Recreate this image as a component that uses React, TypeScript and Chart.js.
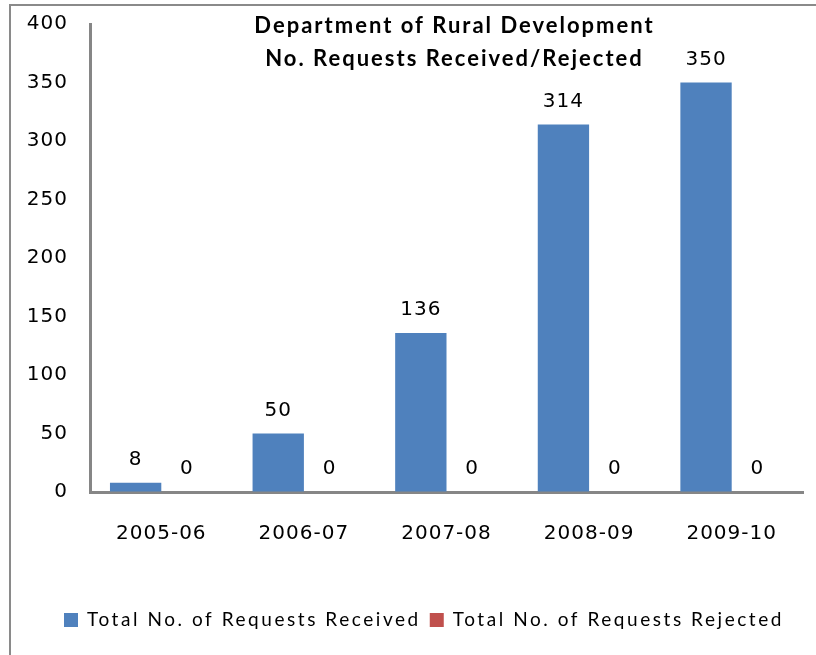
import React, { useEffect, useRef } from "react";
import { Chart, registerables } from "chart.js";

Chart.register(...registerables);

const categories = ["2005-06", "2006-07", "2007-08", "2008-09", "2009-10"];
const received = [8, 50, 136, 314, 350];
const rejected = [0, 0, 0, 0, 0];
const seriesNames = ["Total No. of Requests Received", "Total No. of Requests Rejected"];
const titleLines = ["Department of Rural Development", "No. Requests Received/Rejected"];
const yTicks = { min: 0, max: 400, step: 50 };

const AXIS = "#868686";
const TXT = "#000000";
const NUM_FONT = "20px 'DejaVu Sans'";

export default function App() {
  const ref = useRef<HTMLCanvasElement>(null);

  useEffect(() => {
    const canvas = ref.current!;
    const frame = {
      id: "frame",
      beforeUpdate(chart: any) {
        chart.ctx.letterSpacing = "1px";
      },
      beforeDraw(chart: any) {
        const ctx = chart.ctx;
        ctx.letterSpacing = "1px";
        ctx.save();
        ctx.fillStyle = "#ffffff";
        ctx.fillRect(0, 0, chart.width, chart.height);
        ctx.strokeStyle = "#8a8a8a";
        ctx.lineWidth = 2;
        ctx.beginPath();
        ctx.moveTo(10, chart.height + 5);
        ctx.lineTo(10, 5);
        ctx.lineTo(chart.width + 5, 5);
        ctx.stroke();
        ctx.restore();
      },
    };
    const labels = {
      id: "labelsAndTitle",
      afterDatasetsDraw(chart: any) {
        const ctx = chart.ctx;
        ctx.save();
        ctx.font = NUM_FONT;
        ctx.letterSpacing = "1px";
        ctx.fillStyle = TXT;
        ctx.textAlign = "center";
        ctx.textBaseline = "middle";
        chart.data.datasets.forEach((ds: any, i: number) => {
          const meta = chart.getDatasetMeta(i);
          meta.data.forEach((bar: any, j: number) => {
            ctx.fillText(String(ds.data[j]), bar.x, bar.y - 23);
          });
        });
        // title
        const ca = chart.chartArea;
        const cx = (ca.left + ca.right) / 2 + 8;
        ctx.font = "bold 22px Lato";
        ctx.letterSpacing = "2px";
        ctx.fillText(titleLines[0], cx, ca.top + 2);
        ctx.fillText(titleLines[1], cx, ca.top + 35);
        // legend
        ctx.font = "19px Lato";
        ctx.letterSpacing = "2.55px";
        ctx.textAlign = "left";
        let x = 64;
        const y = 620;
        chart.data.datasets.forEach((ds: any) => {
          ctx.fillStyle = ds.backgroundColor;
          ctx.fillRect(x, y - 7, 14, 14);
          ctx.fillStyle = TXT;
          ctx.fillText(ds.label, x + 23, y);
          x += 23 + ctx.measureText(ds.label).width + 9;
        });
        ctx.restore();
      },
    };

    const chart = new Chart(canvas, {
      type: "bar",
      data: {
        labels: categories,
        datasets: [
          { label: seriesNames[0], data: received, backgroundColor: "#4F81BD" },
          { label: seriesNames[1], data: rejected, backgroundColor: "#C0504D" },
        ],
      },
      options: {
        responsive: false,
        animation: false,
        layout: { padding: { left: 0, top: 24, right: 13, bottom: 113 } },
        datasets: { bar: { categoryPercentage: 0.72, barPercentage: 1 } },
        plugins: { legend: { display: false }, title: { display: false }, tooltip: { enabled: false } },
        scales: {
          x: {
            grid: { display: true, drawOnChartArea: false, drawTicks: false, color: "transparent" },
            border: { display: true, color: AXIS, width: 3 },
            ticks: { color: TXT, font: { family: "DejaVu Sans", size: 20 }, padding: 30 },
            afterFit: (s: any) => { s.height = 50; s.paddingLeft = 0; s.paddingRight = 0; },
          },
          y: {
            min: yTicks.min,
            max: yTicks.max,
            grid: { display: true, drawOnChartArea: false, drawTicks: false, color: "transparent" },
            border: { display: true, color: AXIS, width: 3 },
            ticks: { stepSize: yTicks.step, color: TXT, font: { family: "DejaVu Sans", size: 20 }, padding: 22 },
            afterFit: (s: any) => { s.width = 90; s.paddingTop = 0; s.paddingBottom = 0; },
          },
        },
      },
      plugins: [frame, labels],
    });
    return () => chart.destroy();
  }, []);

  return (
    <div style={{ position: "fixed", left: 0, top: 0, width: 816, height: 655 }}>
      <canvas ref={ref} width={816} height={655} />
    </div>
  );
}
